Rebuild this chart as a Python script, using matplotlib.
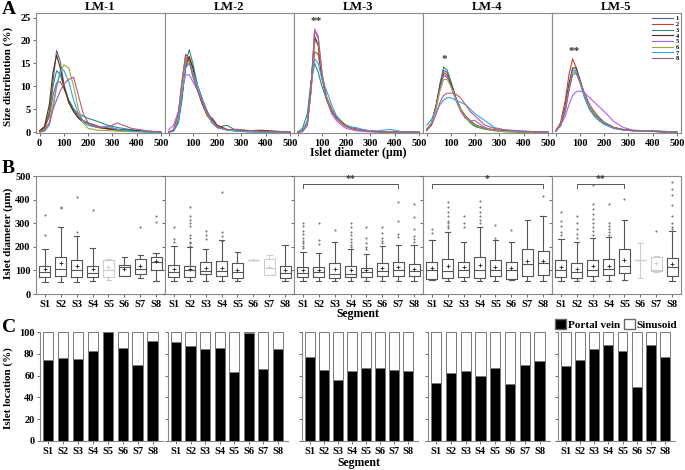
import matplotlib
matplotlib.use('Agg')
import matplotlib.pyplot as plt
from matplotlib.patches import Patch

plt.rcParams['font.family'] = ['Liberation Serif', 'DejaVu Serif']
plt.rcParams['font.weight'] = 'bold'
plt.rcParams['axes.labelweight'] = 'bold'

livers = ['LM-1', 'LM-2', 'LM-3', 'LM-4', 'LM-5']
segments = ['S1', 'S2', 'S3', 'S4', 'S5', 'S6', 'S7', 'S8']
seg_pos = [1, 2, 3, 4, 5, 6, 7, 8]
line_names = ['1', '2', '3', '4', '5', '6', '7', '8']
line_colors = ['#4f63ad', '#cc3b2e', '#2e8b7a', '#5b2c0f',
               '#b65ee6', '#9ea83c', '#35a4f0', '#b25c7a']

# --- A: size distribution (%) per segment, read at these diameters
diam = [0, 20, 40, 55, 70, 85, 100, 120, 140, 160, 180, 200, 240, 280, 320, 380, 440, 500]
lm1_dist = [
    [0.2, 0.8, 4, 11, 17.8, 15.5, 10.5, 6.5, 4.5, 3.2, 2.5, 2, 1.2, 0.7, 0.4, 0.2, 0.1, 0],
    [0.2, 0.8, 3.5, 8, 10.8, 11, 9.5, 7, 5, 3.5, 2.5, 2, 1.3, 0.8, 0.5, 0.3, 0.1, 0],
    [0.2, 1, 4.5, 10, 13.4, 12.5, 10, 7, 5, 4, 3.5, 3, 2.3, 1.5, 1, 0.5, 0.2, 0],
    [0.3, 1.2, 6, 13, 16.8, 14, 10, 6.5, 4.5, 3, 2.2, 1.6, 1, 0.7, 0.6, 0.4, 0.1, 0],
    None,
    [0.1, 0.5, 2, 6, 10, 13, 14.7, 14, 10, 5, 2, 0.8, 0.4, 0.3, 0.2, 0.1, 0, 0],
    [0, 0.2, 1.5, 5, 10, 13.5, 13.5, 11, 7, 4, 2.5, 1.5, 1, 1.3, 0.6, 0.2, 0, 0],
    [0, 0.3, 2, 5, 7, 9, 10.5, 11.5, 12, 8, 4, 2, 1, 1, 2, 0.8, 0.3, 0],
]
lm2_dist = [
    [0, 0.3, 2.5, 8, 14, 16, 14, 10, 7, 4.5, 2.5, 1.2, 0.5, 0.3, 0.2, 0.1, 0, 0],
    [0, 0.5, 4, 11, 17, 16, 12.5, 9, 6, 3.5, 2.2, 1, 0.5, 0.6, 0.3, 0.2, 0.1, 0],
    [0, 0.2, 2, 7, 15, 18, 15, 10, 7, 4, 2, 1, 1.5, 0.3, 0.1, 0, 0, 0],
    [0, 0.3, 2.5, 8, 14.5, 16.5, 14, 9, 6, 3.5, 3, 1.5, 0.6, 0.3, 0.3, 0.4, 0.2, 0],
    [0.5, 1.5, 4.5, 9, 12.5, 12.5, 11, 9, 6.5, 4, 2, 1, 0.5, 0.2, 0.1, 0, 0, 0],
    [0, 0.3, 3, 9, 15, 15.5, 13, 9.5, 6.5, 3.5, 2, 1, 0.5, 0.2, 0.1, 0, 0, 0],
    [0, 0.2, 2, 8, 14, 15, 13, 10, 7, 4, 2, 1, 0.5, 0.2, 0.1, 0, 0, 0],
    [0, 0.5, 4, 11, 16.5, 15.5, 12, 9, 6.5, 4, 2.5, 1.2, 0.5, 0.6, 0.4, 0.2, 0.1, 0],
]
lm3_dist = [
    [0, 0.2, 2, 10, 21, 19, 12, 7, 4.5, 3, 2, 1.3, 0.6, 0.3, 0.1, 0, 0, 0],
    [0, 0.2, 2, 9, 17.5, 17, 12, 7.5, 5, 3, 2, 1.2, 0.5, 0.3, 0.1, 0, 0, 0],
    [0, 0.8, 4, 11, 15, 13, 10, 7, 5, 3.5, 2.3, 1.5, 0.6, 0.3, 0.1, 0, 0, 0],
    [0, 0.2, 2, 10, 20.5, 19, 12, 7.5, 5, 3.2, 2.2, 1.5, 0.7, 0.4, 0.2, 0, 0, 0],
    [0, 0.1, 1.5, 9, 22.5, 21, 13, 7, 4, 2.5, 1.5, 0.8, 0.3, 0.1, 0, 0, 0, 0],
    [0, 0.2, 2, 9, 19.5, 19.5, 13, 7.5, 5, 3.5, 2.5, 1.5, 0.6, 0.3, 0.1, 0, 0, 0],
    [0, 0.3, 2.5, 10, 16, 15, 11.5, 9, 6, 3.5, 2, 1.2, 1, 0.4, 0.2, 0.6, 0, 0],
    [0, 0.1, 1.5, 9, 22, 20.5, 13, 7, 4.5, 3, 2, 1.2, 0.5, 0.3, 0.1, 0, 0, 0],
]
lm4_dist = [
    [0.5, 2, 6, 10.5, 13.5, 13, 11, 7.5, 5, 3.5, 2.3, 1.5, 0.7, 0.4, 0.2, 0.1, 0, 0],
    [0.5, 2, 6, 10, 13, 12.5, 10.5, 7.5, 5, 3.5, 2.3, 1.5, 0.8, 0.5, 0.3, 0.1, 0, 0],
    [0.3, 1.5, 5.5, 10.5, 14.2, 13.5, 11, 7.5, 5, 3.2, 2, 1.2, 0.6, 0.3, 0.1, 0, 0, 0],
    [0.5, 2, 6, 10, 12.5, 12, 10.5, 7.5, 5, 3.5, 2.5, 1.6, 0.8, 0.4, 0.2, 0.1, 0, 0],
    [0.5, 2, 5.5, 9.5, 12.5, 12, 10, 7, 4.5, 3, 2.5, 2.5, 1, 0.4, 0.2, 0.1, 0, 0],
    [0.5, 2, 5.5, 9, 11.5, 11.5, 10, 7.5, 5, 3.5, 2.3, 1.5, 0.7, 0.3, 0.1, 0, 0, 0],
    [1.5, 2.8, 4.5, 6, 7, 7.5, 7.5, 7, 6.5, 6, 5, 4, 2.5, 1, 0.5, 0.2, 0.1, 0],
    [0.5, 1.5, 4, 6.5, 8, 8.5, 8.5, 8.3, 7.5, 6, 4.5, 3.5, 1.5, 0.8, 0.5, 0.3, 0.1, 0],
]
lm5_dist = [
    [0.2, 1.5, 5.5, 10, 13.5, 13.5, 11, 8, 5.5, 4, 3, 2, 1, 0.5, 0.3, 0.2, 0, 0],
    [0.3, 2, 7, 12.5, 16, 14, 11, 7.5, 5, 3.5, 2.5, 1.8, 0.8, 0.5, 0.3, 0.2, 0.1, 0],
    [0.2, 1.5, 5, 9.5, 13, 13.2, 11, 7.5, 5, 3.5, 2.5, 1.7, 0.9, 0.6, 0.4, 0.3, 0.2, 0],
    [0.2, 1.5, 5.5, 10.5, 14, 14, 11.5, 8, 5.5, 4, 2.8, 2, 1, 0.5, 0.3, 0.2, 0.1, 0],
    [0.3, 1.5, 3.5, 6, 8, 8.8, 9, 8.5, 7.5, 6.5, 5.5, 4.5, 2.3, 1, 0.4, 0.2, 0.1, 0],
    [0.2, 1.5, 5, 9.5, 13, 13, 11, 8, 5.5, 4, 2.8, 2, 1, 0.5, 0.3, 0.2, 0.1, 0],
    [0.2, 1.5, 5, 9.5, 13.5, 13.5, 11, 7.5, 5, 3.5, 2.5, 1.7, 0.8, 0.4, 0.3, 0.2, 0.1, 0],
    [0.2, 1.3, 4.5, 9, 12.5, 12.8, 11, 8.5, 6, 4.5, 3.2, 2.2, 1, 0.5, 0.3, 0.2, 0.1, 0],
]
size_dists = [lm1_dist, lm2_dist, lm3_dist, lm4_dist, lm5_dist]
a_stars = ['', '', '**', '*', '**']

# --- B: islet diameter (um) box stats
q1_um = [[73, 76, 73, 73, 73, 76, 83, 101],
         [73, 73, 83, 76, 66, 145, 80, 69],
         [73, 73, 69, 73, 73, 76, 76, 76],
         [64, 69, 73, 69, 76, 64, 76, 79],
         [73, 69, 76, 80, 90, 144, 97, 76]]
med_um = [[93, 108, 100, 90, 104, 116, 108, 135],
          [94, 101, 97, 97, 94, 145, 111, 90],
          [90, 93, 87, 87, 93, 97, 101, 97],
          [101, 97, 101, 104, 104, 100, 126, 133],
          [100, 93, 101, 107, 121, 144, 104, 114]]
q3_um = [[118, 158, 144, 121, 144, 124, 147, 158],
         [123, 118, 136, 140, 130, 145, 151, 121],
         [116, 116, 133, 121, 111, 130, 137, 128],
         [136, 147, 137, 158, 143, 137, 193, 183],
         [144, 133, 143, 150, 193, 144, 158, 154]]
lo_um = [[51, 51, 51, 57, 61, 76, 66, 57],
         [57, 54, 57, 57, 57, 145, 80, 57],
         [54, 54, 54, 57, 54, 57, 57, 57],
         [59, 54, 57, 54, 57, 59, 54, 54],
         [57, 57, 57, 57, 59, 69, 94, 54]]
hi_um = [[190, 283, 247, 197, 150, 158, 167, 173],
         [204, 201, 193, 229, 179, 145, 164, 209],
         [179, 176, 221, 190, 171, 204, 207, 210],
         [229, 264, 221, 283, 229, 221, 316, 333],
         [233, 221, 240, 244, 314, 219, 161, 268]]
mean_um = [[105, 133, 118, 108, 115, 108, 118, 140],
           [107, 108, 111, 111, 100, 145, 116, 100],
           [100, 100, 108, 104, 100, 110, 114, 108],
           [111, 118, 114, 123, 116, 111, 140, 140],
           [116, 108, 121, 121, 144, 144, 133, 128]]
fliers_um = [
    [[250, 337], [365, 372], [262, 411], [357], [], [], [283], [308, 330]],
    [[221, 233, 283], [205, 215, 222, 240, 250, 290, 300, 315, 330, 370],
     [233, 250, 268], [226, 247, 262, 433], [], [], [], []],
    [[196, 205, 215, 225, 240, 255, 270, 290, 304], [212, 230, 300], [273],
     [200, 210, 220, 235, 250, 265, 285, 300], [190, 200, 215, 240, 283],
     [215, 225, 240, 260, 283], [244, 254, 311, 390], [220, 233, 245, 276, 326, 383]],
    [[261, 276], [280, 290, 300, 311, 330, 350, 370, 390], [283, 300, 330],
     [300, 315, 330, 350, 370, 397], [237, 294], [273], [], [419]],
    [[250, 262, 290, 310, 350], [240, 255, 275, 300, 333],
     [250, 268, 285, 300, 320, 340, 360, 383, 464], [250, 262, 275, 290, 304, 383],
     [404], [], [266], [275, 285, 300, 330, 380, 420, 445, 476]],
]
faint_segs = [[5], [6, 7], [], [], [6, 7]]
b_brackets = [None, None, (1, 7, '**'), (1, 8, '*'), (2, 5, '**')]

# --- C: islet location, % in portal vein (rest sinusoid)
portal_pct = [[74, 76, 75, 83, 100, 85, 70, 92],
              [91, 87, 84, 85, 63, 99, 66, 84],
              [77, 65, 56, 64, 67, 67, 65, 64],
              [53, 62, 64, 60, 67, 52, 70, 73],
              [69, 74, 84, 88, 83, 50, 88, 77]]

W, H = 685, 470
fig = plt.figure(figsize=(W / 100, H / 100), dpi=100)
spine_c = '#8a8a8a'
tick_fs = 7.5


def frac_box(x0, y_top, w, y_bot):
    return [x0 / W, 1 - y_bot / H, w / W, (y_bot - y_top) / H]


def style_spines(ax, sides):
    for s in ['top', 'bottom', 'left', 'right']:
        ax.spines[s].set_visible(s in sides)
        ax.spines[s].set_color(spine_c)
        ax.spines[s].set_linewidth(0.8)
    ax.tick_params(colors='#555555', labelcolor='black', labelsize=tick_fs,
                   length=2.5, width=0.6, pad=1.5)


# ---------- A
for i, dists in enumerate(size_dists):
    ax = fig.add_axes(frac_box(36 + 129 * i, 13, 129, 133))
    style_spines(ax, ['top', 'bottom', 'left', 'right'])
    peak_x, peak_y = 0, 0
    for k, d in enumerate(dists):
        if d is None:
            continue
        ax.plot(diam, d, color=line_colors[k], lw=0.8, label=line_names[k])
        if max(d) > peak_y:
            peak_y = max(d)
            peak_x = diam[d.index(max(d))]
    if a_stars[i]:
        ax.text(peak_x + 5, peak_y + 0.6, a_stars[i], ha='center', va='bottom',
                fontsize=8, color='#333333')
    ax.set_xlim(-15, 517)
    ax.set_ylim(-0.2, 26)
    ax.set_xticks([0, 100, 200, 300, 400, 500])
    ax.set_xticklabels(['0' if i == 0 else '', '100', '200', '300', '400', '500'])
    ax.set_title(livers[i], fontsize=9, fontweight='bold', pad=2)
    if i == 0:
        ax.set_yticks([0, 5, 10, 15, 20, 25])
    else:
        ax.set_yticks([])
    if i == 4:
        ax.legend(loc='upper right', bbox_to_anchor=(1.0, 0.99), fontsize=4.5,
                  frameon=False, handlelength=3.5, labelspacing=0.05,
                  handletextpad=0.4, borderaxespad=0.2, borderpad=0.1)

fig.text(8 / W, 1 - 76 / H, 'Size distribution (%)', rotation=90,
         ha='center', va='center', fontsize=8)
fig.text(358 / W, 1 - 153 / H, 'Islet diameter (µm)', ha='center',
         va='center', fontsize=8.5)

# ---------- B
box_c = '#555555'
faint_c = '#cccccc'
for i in range(5):
    ax = fig.add_axes(frac_box(36 + 129 * i, 176, 129, 294))
    style_spines(ax, ['top', 'bottom', 'left', 'right'])
    for faint in (False, True):
        stats, pos = [], []
        for j in range(8):
            if (seg_pos[j] in faint_segs[i]) != faint:
                continue
            stats.append(dict(q1=q1_um[i][j], med=med_um[i][j], q3=q3_um[i][j],
                              whislo=lo_um[i][j], whishi=hi_um[i][j],
                              mean=mean_um[i][j], fliers=fliers_um[i][j]))
            pos.append(seg_pos[j])
        if not stats:
            continue
        c = faint_c if faint else box_c
        ax.bxp(stats, positions=pos, widths=0.72, capwidths=0.35,
               showmeans=True, manage_ticks=False,
               boxprops=dict(color=c, lw=0.8),
               whiskerprops=dict(color=c, lw=0.8),
               capprops=dict(color=c, lw=0.8),
               medianprops=dict(color=c, lw=0.8),
               meanprops=dict(marker='+', markersize=3,
                              markeredgecolor=faint_c if faint else '#222222',
                              markeredgewidth=0.6),
               flierprops=dict(marker='o', markersize=0.9, markerfacecolor='none',
                               markeredgecolor='#555555', markeredgewidth=0.5))
    br = b_brackets[i]
    if br:
        s0, s1, lab = br
        ax.plot([s0, s0, s1, s1], [452, 470, 470, 452], color='#555555', lw=0.7)
        ax.text((s0 + s1) / 2, 474, lab, ha='center', va='bottom', fontsize=7,
                color='#333333')
    ax.set_xlim(0.45, 8.55)
    ax.set_ylim(0, 502)
    ax.set_xticks(seg_pos)
    ax.set_xticklabels(segments)
    ax.set_yticks([0, 100, 200, 300, 400, 500])
    if i > 0:
        ax.set_yticklabels([])

fig.text(8 / W, 1 - 233 / H, 'Islet diameter (µm)', rotation=90,
         ha='center', va='center', fontsize=8)
fig.text(358 / W, 1 - 314 / H, 'Segment', ha='center', va='center', fontsize=8.5)

# ---------- C
c_left = [40, 168, 302, 428, 558]
c_width = [123, 120, 116, 122, 117]
for i in range(5):
    ax = fig.add_axes(frac_box(c_left[i], 332, c_width[i], 441))
    style_spines(ax, ['bottom', 'left'])
    sinus = [100 - p for p in portal_pct[i]]
    ax.bar(seg_pos, portal_pct[i], width=0.7, color='black', edgecolor='#777777', lw=0.7)
    ax.bar(seg_pos, sinus, width=0.7, bottom=portal_pct[i], color='white',
           edgecolor='#777777', lw=0.7)
    ax.set_xlim(0.45, 8.7)
    ax.set_ylim(0, 100)
    ax.set_xticks(seg_pos)
    ax.set_xticklabels(segments)
    ax.set_yticks([0, 20, 40, 60, 80, 100])
    if i > 0:
        ax.set_yticklabels([])

fig.text(8 / W, 1 - 388 / H, 'Islet location (%)', rotation=90,
         ha='center', va='center', fontsize=8)
fig.text(359 / W, 1 - 463 / H, 'Segment', ha='center', va='center', fontsize=8.5)
fig.legend(handles=[Patch(facecolor='black', edgecolor='#666666'),
                    Patch(facecolor='white', edgecolor='#666666')],
           labels=['Portal vein', 'Sinusoid'], ncol=2, loc='upper right',
           bbox_to_anchor=(677 / W, 1 - 319 / H), fontsize=8, frameon=False,
           handlelength=1.0, handleheight=1.0, handletextpad=0.15,
           columnspacing=0.3, borderaxespad=0, borderpad=0)

# panel letters
fig.text(2 / W, 1 - 10 / H, 'A', fontsize=14, fontweight='bold', va='center')
fig.text(2 / W, 1 - 168 / H, 'B', fontsize=14, fontweight='bold', va='center')
fig.text(2 / W, 1 - 327 / H, 'C', fontsize=14, fontweight='bold', va='center')

fig.savefig('out.png', dpi=100)
